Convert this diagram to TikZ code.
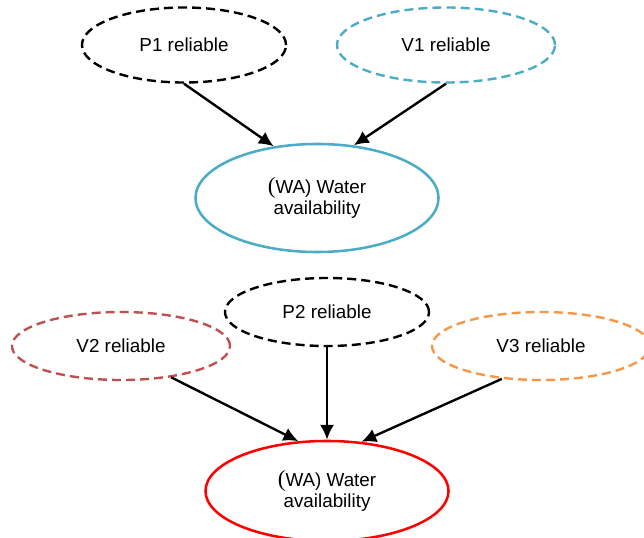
\documentclass[tikz,border=0pt]{standalone}
\usepackage{fontspec}
\setmainfont{Liberation Sans}
\newfontfamily\parfont{Liberation Serif}
\usetikzlibrary{positioning, shapes, arrows.meta}
\definecolor{tealblue}{HTML}{4BACC6}
\definecolor{brickred}{HTML}{C0504D}
\definecolor{lightorange}{HTML}{F79646}
\newcommand{\wapar}{{\parfont\fontsize{16.5}{14}\selectfont(}}

\begin{document}
\begin{tikzpicture}[x=0.025cm, y=-0.025cm, -{Latex[length=10.5pt,width=10pt]},
      inner sep=0pt, line width=1.7pt, font=\fontsize{13.4}{15.2}\selectfont,
      cause/.style={ellipse, draw, dash pattern=on 6.4pt off 3.6pt, minimum height=1.7cm},
      effect/.style={ellipse, draw, align=center, line width=1.8pt}]
      \useasboundingbox (0,0) rectangle (644,538);
      % P1, V1 -> WA;
      \node[cause, minimum width=5.1cm, minimum height=1.875cm](p_1) at(184,45) {P1 reliable};
      \node[cause, draw=tealblue, minimum width=5.45cm, minimum height=1.875cm](v_1) at(446,45) {V1 reliable};
      \node[effect, draw=tealblue, minimum width=6.075cm, minimum height=2.7cm](wa_1) at(317,198) {\wapar WA) Water\\availability};
      \path (p_1.south) edge (wa_1.130);
      \path (v_1.south) edge (wa_1.55);
      % V2, P2, V3 -> WA;
      \node[cause, draw=brickred, minimum width=5.45cm](v_2) at(121,346) {V2 reliable};
      \node[cause, minimum width=5.1cm](p_2) at(327,312) {P2 reliable};
      \node[cause, draw=lightorange, minimum width=5.45cm](v_3) at(541,346) {V3 reliable};
      \node[effect, draw=red, minimum width=6.075cm, minimum height=2.5cm](wa_2) at(327,491) {\wapar WA) Water\\availability};
      \path (v_2.-32) edge (wa_2.120);
      \path (p_2) edge (wa_2);
      \path (v_3.-140) edge (wa_2.55);
  \end{tikzpicture}
\end{document}
